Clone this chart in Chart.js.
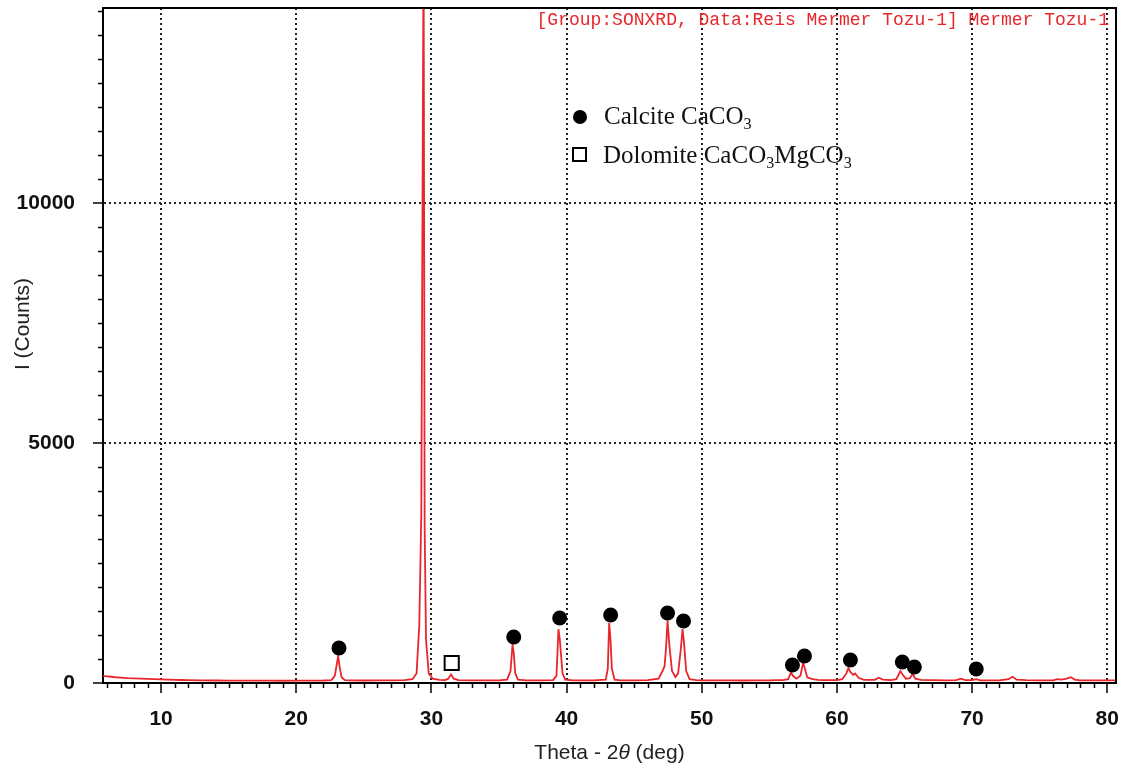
<!DOCTYPE html>
<html>
<head>
<meta charset="utf-8">
<script src="https://cdn.jsdelivr.net/npm/chart.js@4.4.1/dist/chart.umd.min.js"></script>
<style>
  html, body { margin: 0; padding: 0; background: #ffffff; }
  canvas { display: block; }
</style>
</head>
<body>
<canvas id="xrd" width="1122" height="772"></canvas>
<script>
// Diffraction scan: 2-theta (deg) and intensity (counts)
const twoTheta = [
  5.7, 6.0, 6.3, 6.6, 7.0, 7.5, 8.0, 8.5, 9.0, 9.5, 10.0, 10.5, 11.0, 11.5, 12.0,
  13.0, 14.0, 15.0, 16.0, 17.0, 18.0, 19.0, 20.0, 21.0, 22.0,
  22.6, 22.85, 23.0, 23.1, 23.2, 23.35, 23.6, 24.0, 25.0, 26.0, 27.0, 28.0,
  28.6, 28.9, 29.1, 29.25, 29.35, 29.42, 29.5, 29.6, 29.8, 30.1, 30.6,
  31.0, 31.25, 31.45, 31.65, 32.0, 33.0, 34.0, 35.0,
  35.6, 35.85, 36.0, 36.1, 36.2, 36.4, 37.0, 38.0,
  39.0, 39.25, 39.4, 39.5, 39.6, 39.7, 39.9, 40.5, 41.0, 42.0,
  42.9, 43.05, 43.15, 43.25, 43.35, 43.55, 44.0, 45.0, 46.0,
  46.8, 47.1, 47.25, 47.35, 47.47, 47.6, 47.8, 48.05, 48.25, 48.45, 48.58, 48.7, 48.85, 49.1, 49.6,
  50.0, 51.0, 52.0, 53.0, 54.0, 55.0, 55.5, 56.0,
  56.4, 56.6, 56.75, 57.0, 57.3, 57.5, 57.65, 57.8, 58.2, 58.6, 59.0, 60.0,
  60.4, 60.7, 60.85, 61.0, 61.2, 61.35, 61.6, 62.0, 62.8, 63.1, 63.4, 64.0,
  64.4, 64.7, 64.85, 65.1, 65.4, 65.6, 65.8, 66.2, 67.0, 68.0,
  68.8, 69.2, 69.5, 70.0, 70.3, 70.6, 71.0, 72.0,
  72.7, 73.0, 73.3, 74.0, 75.0, 76.0, 76.3, 76.6, 77.0, 77.3, 77.6, 78.0, 79.0, 80.0, 80.65
];
const counts = [
  150, 140, 130, 120, 110, 100, 95, 90, 85, 80, 75, 70, 65, 62, 60,
  55, 52, 50, 50, 48, 50, 47, 48, 50, 52,
  60, 150, 400, 560, 350, 120, 60, 55, 52, 55, 55, 60,
  80, 200, 1200, 3500, 10700, 15500, 3200, 900, 200, 90, 65,
  60, 90, 180, 90, 60, 55, 55, 55,
  70, 250, 790, 600, 200, 70, 55, 55,
  60, 150, 1125, 900, 550, 200, 70, 55, 55, 55,
  70, 300, 1256, 900, 300, 70, 55, 55, 58,
  90, 250, 350, 700, 1300, 800, 250, 125, 200, 700, 1125, 800, 250, 80, 60,
  55, 55, 55, 52, 55, 55, 58, 60,
  80, 220, 150, 90, 150, 420, 280, 120, 80, 65, 60, 60,
  80, 200, 310, 230, 170, 200, 110, 65, 65, 110, 70, 60,
  80, 250, 180, 90, 100, 190, 90, 65, 60, 55,
  60, 90, 60, 60, 80, 55, 55, 55,
  80, 130, 70, 60, 55, 55, 80, 70, 90, 120, 70, 55, 55, 55, 55
];

// Phase identification marks placed above the indexed reflections
const calciteTheta = [23.16, 36.09, 39.49, 43.26, 47.47, 48.65, 56.71, 57.60, 61.0, 64.84, 65.73, 70.31];
const calciteMarkY = [729, 958, 1354, 1417, 1458, 1292, 375, 563, 479, 438, 333, 292];
const dolomiteTheta = [31.5];
const dolomiteMarkY = [417];

// Axis tick values and captions
const xTickValues = [10, 20, 30, 40, 50, 60, 70, 80];
const yTickValues = [0, 5000, 10000];
const headerText = '[Group:SONXRD, Data:Reis Mermer Tozu-1] Mermer Tozu-1';
const calciteLabel = ['Calcite CaCO', '3'];
const dolomiteLabel = ['Dolomite CaCO', '3', 'MgCO', '3'];

const RED = '#e8262b';

const xyPairs = (xs, ys) => xs.map((v, i) => ({ x: v, y: ys[i] }));

// Writes a label with alternating normal / subscript parts
function drawSubscripted(ctx, parts, x, y, size) {
  let cx = x;
  parts.forEach((p, i) => {
    const sub = i % 2 === 1;
    ctx.font = (sub ? Math.round(size * 0.62) : size) + 'px "Liberation Serif", "Times New Roman", serif';
    ctx.fillText(p, cx, sub ? y + size * 0.18 : y);
    cx += ctx.measureText(p).width;
  });
}

const decorations = {
  id: 'decorations',
  beforeDraw(chart) {
    const ctx = chart.ctx;
    ctx.save();
    ctx.fillStyle = '#ffffff';
    ctx.fillRect(0, 0, chart.width, chart.height);
    ctx.restore();
  },
  afterDraw(chart) {
    const { ctx, chartArea: a, scales: { x, y } } = chart;
    ctx.save();

    // closing frame on top and right
    ctx.strokeStyle = '#000';
    ctx.lineWidth = 2;
    ctx.beginPath();
    ctx.moveTo(a.left, a.top);
    ctx.lineTo(a.right, a.top);
    ctx.lineTo(a.right, a.bottom);
    ctx.stroke();

    // minor tick marks
    ctx.lineWidth = 1.5;
    ctx.beginPath();
    for (let v = Math.ceil(x.min); v <= x.max; v += 1) {
      if (v % 10 === 0) continue;
      const px = Math.round(x.getPixelForValue(v)) + 0.5;
      ctx.moveTo(px, a.bottom);
      ctx.lineTo(px, a.bottom + 5);
    }
    for (let v = 500; v <= y.max; v += 500) {
      if (v % 5000 === 0) continue;
      const py = Math.round(y.getPixelForValue(v)) + 0.5;
      ctx.moveTo(a.left - 5, py);
      ctx.lineTo(a.left, py);
    }
    ctx.stroke();

    // scan caption
    ctx.fillStyle = RED;
    ctx.font = '18px "Liberation Mono", "Courier New", monospace';
    ctx.textAlign = 'right';
    ctx.textBaseline = 'middle';
    ctx.fillText(headerText, a.right - 7, 20);

    // phase key
    const calc = chart.data.datasets[0];
    const dolo = chart.data.datasets[1];
    ctx.fillStyle = calc.backgroundColor;
    ctx.beginPath();
    ctx.arc(580, 117, 7, 0, Math.PI * 2);
    ctx.fill();
    ctx.fillStyle = dolo.backgroundColor;
    ctx.strokeStyle = dolo.borderColor;
    ctx.lineWidth = 2;
    ctx.fillRect(573, 148, 13, 13);
    ctx.strokeRect(573, 148, 13, 13);

    ctx.fillStyle = '#111';
    ctx.textAlign = 'left';
    ctx.textBaseline = 'alphabetic';
    drawSubscripted(ctx, calciteLabel, 604, 124, 25);
    drawSubscripted(ctx, dolomiteLabel, 603, 163, 25);

    // axis titles
    ctx.fillStyle = '#222';
    ctx.font = '21px "Liberation Sans", Arial, sans-serif';
    ctx.save();
    ctx.translate(23, 324);
    ctx.rotate(-Math.PI / 2);
    ctx.textAlign = 'center';
    ctx.textBaseline = 'middle';
    ctx.fillText('I (Counts)', 0, 0);
    ctx.restore();

    const parts = [['Theta - 2', 'normal'], ['\u03b8', 'italic'], [' (deg)', 'normal']];
    const widths = parts.map(([t, s]) => {
      ctx.font = s + ' 21px "Liberation Sans", Arial, sans-serif';
      return ctx.measureText(t).width;
    });
    let tx = (a.left + a.right) / 2 - widths.reduce((s, w) => s + w, 0) / 2;
    ctx.textAlign = 'left';
    ctx.textBaseline = 'middle';
    parts.forEach(([t, s], i) => {
      ctx.font = s + ' 21px "Liberation Sans", Arial, sans-serif';
      ctx.fillText(t, tx, 753);
      tx += widths[i];
    });

    ctx.restore();
  }
};

const gridStyle = {
  color: (c) => (c.tick && c.tick.value === 0 ? 'rgba(0,0,0,0)' : '#222'),
  lineWidth: 2,
  tickColor: '#000',
  tickWidth: 1.5,
  tickLength: 10,
  tickBorderDash: [1, 0]
};
const borderStyle = { display: true, color: '#000', width: 2, dash: [2, 3] };

// scales keep no extra room for overhanging labels
const noOverhang = (s) => { s.paddingLeft = 0; s.paddingRight = 0; s.paddingTop = 0; s.paddingBottom = 0; };

new Chart(document.getElementById('xrd'), {
  type: 'scatter',
  data: {
    datasets: [
      {
        label: 'Calcite',
        data: xyPairs(calciteTheta, calciteMarkY),
        pointStyle: 'circle',
        pointRadius: 7.5,
        backgroundColor: '#000',
        borderColor: '#000',
        borderWidth: 0,
        showLine: false
      },
      {
        label: 'Dolomite',
        data: xyPairs(dolomiteTheta, dolomiteMarkY),
        pointStyle: 'rect',
        pointRadius: 10,
        backgroundColor: '#fff',
        borderColor: '#000',
        borderWidth: 2,
        showLine: false
      },
      {
        label: 'Mermer Tozu-1',
        data: xyPairs(twoTheta, counts),
        showLine: true,
        borderColor: RED,
        borderWidth: 1.8,
        pointRadius: 0,
        tension: 0,
        fill: false
      }
    ]
  },
  options: {
    responsive: false,
    animation: false,
    devicePixelRatio: 1,
    layout: { autoPadding: false, padding: { top: 8, right: 6, left: 0, bottom: 0 } },
    plugins: {
      legend: { display: false },
      tooltip: { enabled: false },
      title: { display: false }
    },
    scales: {
      x: {
        type: 'linear',
        min: 5.7,
        max: 80.65,
        afterBuildTicks: (s) => { s.ticks = xTickValues.map(v => ({ value: v })); },
        afterFit: (s) => { s.height = 89; noOverhang(s); },
        ticks: {
          autoSkip: false,
          maxRotation: 0,
          padding: 14,
          color: '#111',
          callback: (v) => String(v),
          font: { family: '"Liberation Sans", Arial, sans-serif', size: 21, weight: 'bold' }
        },
        grid: gridStyle,
        border: borderStyle
      },
      y: {
        type: 'linear',
        min: 0,
        max: 14060,
        afterBuildTicks: (s) => { s.ticks = yTickValues.map(v => ({ value: v })); },
        afterFit: (s) => { s.width = 103; noOverhang(s); },
        ticks: {
          autoSkip: false,
          padding: 18,
          color: '#111',
          callback: (v) => String(v),
          font: { family: '"Liberation Sans", Arial, sans-serif', size: 21, weight: 'bold' }
        },
        grid: gridStyle,
        border: borderStyle
      }
    }
  },
  plugins: [decorations]
});
</script>
</body>
</html>
